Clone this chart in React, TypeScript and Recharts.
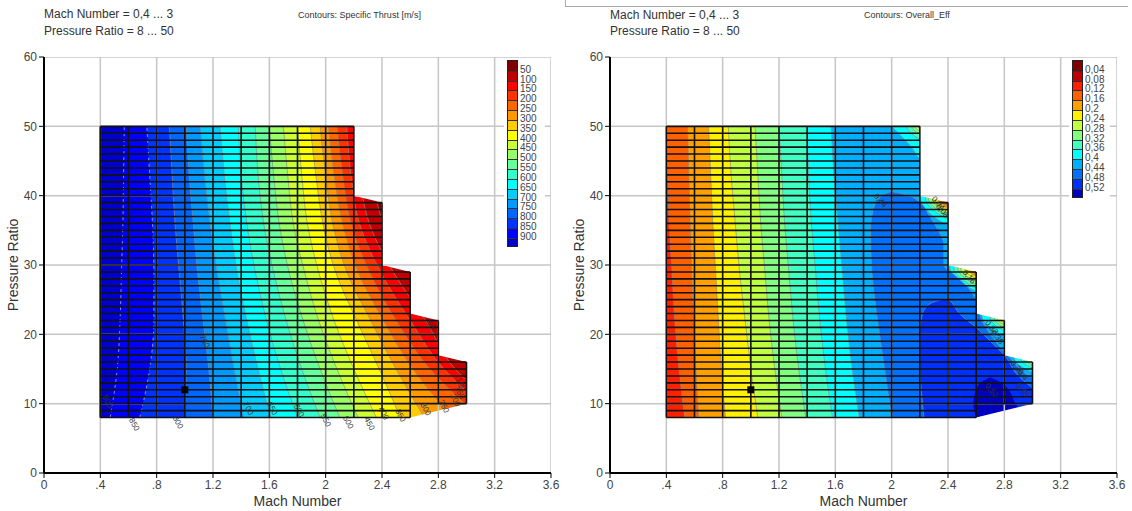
import React from 'react';
import { ComposedChart, Area, Line, XAxis, YAxis } from 'recharts';

// ---------- shared axes / domain ----------
const MACH_TICKS = [0, 0.4, 0.8, 1.2, 1.6, 2, 2.4, 2.8, 3.2, 3.6];
const PR_TICKS = [0, 10, 20, 30, 40, 50, 60];
const CELL_EDGES = [0.4, 0.6, 0.8, 1.0, 1.2, 1.4, 1.6, 1.8, 2.0, 2.2, 2.4, 2.6, 2.8, 3.0];
const CELL_TOP = [50, 50, 50, 50, 50, 50, 50, 50, 50, 39, 29, 22, 16];
const CELL_BOTTOM = [8, 8, 8, 8, 8, 8, 8, 8, 8, 8, 8, 10, 10];
const DOMAIN_PR = [8, 10, 16, 17, 22, 23, 29, 30, 39, 40, 50];
const DOMAIN_RIGHT = [2.6, 3.0, 3.0, 2.8, 2.8, 2.6, 2.6, 2.4, 2.4, 2.2, 2.2];
const MARKER_MACH = 1.0;
const MARKER_PR = 12;

// ---------- Specific thrust ----------
const THRUST_LEVELS = [50, 100, 150, 200, 250, 300, 350, 400, 450, 500, 550, 600, 650, 700, 750, 800, 850, 900];
const THRUST_COLORS = ['#800000', '#C00000', '#FF0000', '#FF3300', '#FF6600', '#FF9900', '#FFCC00', '#FFFF00', '#CCFF33', '#99FF66', '#66FF99', '#33FFCC', '#00FFFF', '#00CCFF', '#0099FF', '#0066FF', '#0033FF', '#0000FF', '#0000CC'];
const THRUST_PR = [8, 15, 22, 29, 36, 43, 50];
const THRUST_MACH = [
  [3.5, 3.06, 2.85, 2.6, 2.41, 2.33, 2.29],
  [3.34, 2.92, 2.71, 2.48, 2.31, 2.24, 2.21],
  [3.22, 2.84, 2.6, 2.39, 2.24, 2.18, 2.15],
  [3.1, 2.74, 2.5, 2.31, 2.18, 2.12, 2.08],
  [2.9, 2.62, 2.41, 2.23, 2.12, 2.06, 2.02],
  [2.7, 2.5, 2.32, 2.15, 2.05, 2.0, 1.96],
  [2.53, 2.38, 2.22, 2.07, 1.98, 1.93, 1.89],
  [2.36, 2.2, 2.06, 1.95, 1.87, 1.83, 1.8],
  [2.23, 2.08, 1.95, 1.85, 1.77, 1.73, 1.7],
  [2.1, 1.96, 1.84, 1.74, 1.67, 1.63, 1.6],
  [1.96, 1.83, 1.72, 1.63, 1.56, 1.52, 1.5],
  [1.8, 1.68, 1.58, 1.5, 1.44, 1.4, 1.38],
  [1.61, 1.52, 1.44, 1.37, 1.32, 1.28, 1.25],
  [1.42, 1.35, 1.29, 1.23, 1.18, 1.14, 1.11],
  [1.2, 1.17, 1.13, 1.09, 1.06, 1.03, 1.01],
  [1.0, 1.01, 0.99, 0.96, 0.93, 0.91, 0.89],
  [0.68, 0.75, 0.78, 0.78, 0.77, 0.75, 0.73],
  [0.47, 0.52, 0.54, 0.55, 0.56, 0.565, 0.57],
];
const THRUST_LABEL_TEXT = ['900', '850', '800', '750', '700', '650', '600', '550', '500', '450', '400', '350', '300', '250', '200', '150', '100', '50'];
const THRUST_LABEL_MACH = [0.45, 0.64, 0.95, 1.14, 1.45, 1.62, 1.81, 2.0, 2.16, 2.31, 2.41, 2.53, 2.71, 2.84, 2.92, 2.95, 2.96, 2.74];
const THRUST_LABEL_PR = [10.3, 7.0, 7.3, 19.0, 9.3, 9.3, 9.0, 7.6, 7.3, 7.1, 8.6, 8.3, 9.2, 9.6, 10.5, 11.6, 12.8, 21.3];

// ---------- Overall efficiency ----------
const EFF_LEVELS = [0.04, 0.08, 0.12, 0.16, 0.2, 0.24, 0.28, 0.32, 0.36, 0.4, 0.44, 0.48, 0.52];
const EFF_LABELS = ['0,04', '0,08', '0,12', '0,16', '0,2', '0,24', '0,28', '0,32', '0,36', '0,4', '0,44', '0,48', '0,52'];
const EFF_COLORS = ['#800000', '#C00000', '#FF2000', '#FF6000', '#FFA000', '#FFF000', '#C0FF40', '#80FF80', '#40FFC0', '#00FFFF', '#00B0FF', '#0070FF', '#0030FF', '#0000C0'];
const EFF_LO_PR = [8, 15, 22, 29, 36, 43, 50];
const EFF_LO = [
  [0.4, 0.4, 0.4, 0.4, 0.4, 0.4, 0.4],
  [0.4, 0.4, 0.4, 0.4, 0.4, 0.4, 0.4],
  [0.53, 0.49, 0.46, 0.44, 0.42, 0.41, 0.4],
  [0.63, 0.61, 0.595, 0.58, 0.57, 0.56, 0.55],
  [0.82, 0.79, 0.77, 0.75, 0.73, 0.715, 0.7],
  [1.05, 1.0, 0.96, 0.92, 0.89, 0.86, 0.84],
  [1.22, 1.17, 1.13, 1.1, 1.07, 1.05, 1.03],
  [1.39, 1.34, 1.3, 1.27, 1.24, 1.22, 1.2],
  [1.58, 1.53, 1.49, 1.46, 1.43, 1.41, 1.4],
  [1.77, 1.72, 1.68, 1.65, 1.62, 1.59, 1.57],
];
const EFF_SPLIT = 2.0;
const EFF_HI = [
  [[8, 3.3], [50, 3.3]],
  [[8, 3.3], [38.6, 3.3], [38.8, 2.42], [39.05, 2.39], [40.2, 3.3], [50, 3.3]],
  [[8, 3.3], [38.3, 3.3], [38.5, 2.42], [39.15, 2.37], [40.2, 3.3], [50, 3.3]],
  [[8, 3.3], [28.3, 3.3], [28.5, 2.62], [29.15, 2.57], [30.2, 3.3], [38.0, 3.3], [38.2, 2.42], [39.25, 2.35], [40.2, 3.3], [50, 3.3]],
  [[8, 3.3], [21.6, 3.3], [21.8, 2.82], [22.05, 2.79], [23.2, 3.3], [28.0, 3.3], [28.2, 2.62], [29.25, 2.55], [30.2, 3.3], [37.8, 3.3], [38.0, 2.42], [39.35, 2.33], [40.2, 3.3], [50, 3.3]],
  [[8, 3.3], [21.3, 3.3], [21.5, 2.82], [22.15, 2.77], [23.2, 3.3], [27.7, 3.3], [27.9, 2.62], [29.4, 2.52], [30.2, 3.3], [37.4, 3.3], [37.6, 2.42], [39.45, 2.31], [40.2, 3.3], [49.4, 3.3], [49.6, 2.22], [50, 2.18]],
  [[8, 3.3], [15.6, 3.3], [15.8, 3.02], [16.05, 2.99], [17.2, 3.3], [21.0, 3.3], [21.2, 2.82], [22.25, 2.75], [23.2, 3.3], [27.3, 3.3], [27.5, 2.62], [29.55, 2.49], [30.2, 3.3], [37.1, 3.3], [37.3, 2.42], [39.55, 2.29], [40.2, 3.3], [49.0, 3.3], [49.2, 2.22], [50, 2.16]],
  [[8, 3.3], [15.2, 3.3], [15.4, 3.02], [16.2, 2.96], [17.2, 3.3], [20.6, 3.3], [20.8, 2.82], [22.35, 2.73], [23.2, 3.3], [26.8, 3.3], [27.0, 2.62], [29.65, 2.47], [30.2, 3.3], [36.8, 3.3], [37.0, 2.42], [39.7, 2.26], [40.2, 3.3], [48.5, 3.3], [48.7, 2.22], [50, 2.14]],
  [[8, 3.3], [14.8, 3.3], [15.0, 3.02], [16.4, 2.92], [17.2, 3.3], [20.1, 3.3], [20.3, 2.82], [22.5, 2.7], [23.2, 3.3], [26.3, 3.3], [26.5, 2.62], [29.8, 2.44], [30.2, 3.3], [36.2, 3.3], [36.4, 2.42], [39.8, 2.24], [40.2, 3.3], [47.8, 3.3], [48.0, 2.22], [50, 2.1]],
  [[8, 3.3], [14.2, 3.3], [14.4, 3.02], [16.65, 2.87], [17.2, 3.3], [19.4, 3.3], [19.6, 2.82], [22.8, 2.64], [23.2, 3.3], [25.8, 3.3], [26.0, 2.62], [29.95, 2.41], [30.2, 3.3], [35.3, 3.3], [35.5, 2.42], [40.0, 2.2], [41, 2.3], [44, 2.3], [45, 2.22], [47, 2.14], [50, 2.0]],
];
// closed high-efficiency islands (levels 0.44, 0.48, 0.52)
const EFF_BLOB_LO = [
  [[8, 2.0], [15, 1.95], [22, 1.9], [29, 1.86], [35, 1.85], [38, 1.87], [40, 1.93], [40.6, 2.0]],
  [[8, 2.23], [12, 2.21], [16, 2.2], [20, 2.2], [23, 2.22], [24.5, 2.28], [25.2, 2.4]],
  [[8, 2.6], [10, 2.58], [12, 2.6], [13, 2.63], [13.8, 2.7]],
];
const EFF_BLOB_HI = [
  [[8, 3.3], [12, 3.2], [13.5, 3.02], [17, 2.82], [20, 2.7], [22, 2.64], [24.5, 2.61], [27, 2.53], [28.5, 2.45], [30, 2.37], [33, 2.37], [35, 2.33], [37, 2.27], [39, 2.2], [40, 2.12], [40.6, 2.0]],
  [[8, 3.3], [10, 3.2], [12, 3.02], [14, 2.9], [17, 2.8], [19, 2.7], [21, 2.6], [23, 2.48], [24.5, 2.43], [25.2, 2.4]],
  [[8, 2.95], [10, 2.88], [12, 2.83], [13, 2.78], [13.8, 2.7]],
];
const EFF_BLOB_SPLIT = [2.0, 2.4, 2.7];
const EFF_LABEL_TEXT = ['0,44', '0,04', '0,08', '0,16', '0,32', '0,36', '0,36', '0,4', '0,52', '0,48'];
const EFF_LABEL_MACH = [1.92, 2.33, 2.36, 2.55, 2.71, 2.75, 2.89, 2.93, 2.71, 2.93];
const EFF_LABEL_PR = [39.3, 38.9, 37.8, 28.3, 21.0, 19.6, 15.2, 14.1, 11.9, 12.0];

// ---------- helpers ----------
const FONT = '"Liberation Sans", Arial, Helvetica, sans-serif';
const X_MAX = MACH_TICKS[MACH_TICKS.length - 1];
const CONTOUR = '#8c8c8c';

const fmtMach = (v: number) => {
  if (v === 0) return '0';
  const s = String(Math.round(v * 10) / 10);
  return s.startsWith('0.') ? s.slice(1) : s;
};

type Seg = { a: { pr: number; m: number }; b: { pr: number; m: number } };

function gridSegs(): Seg[] {
  const out: Seg[] = [];
  const y0 = PR_TICKS[0];
  const y1 = PR_TICKS[PR_TICKS.length - 1];
  MACH_TICKS.forEach((x) => out.push({ a: { pr: y0, m: x }, b: { pr: y1, m: x } }));
  PR_TICKS.forEach((y) => out.push({ a: { pr: y, m: MACH_TICKS[0] }, b: { pr: y, m: X_MAX } }));
  return out;
}

function cellSegs(): Seg[] {
  const out: Seg[] = [];
  const pMin = Math.min(...CELL_BOTTOM);
  const pMax = Math.max(...CELL_TOP);
  for (let p = pMin; p <= pMax; p++) {
    let lo = Infinity;
    let hi = -Infinity;
    CELL_TOP.forEach((t, j) => {
      if (p >= CELL_BOTTOM[j] && p <= t) {
        lo = Math.min(lo, CELL_EDGES[j]);
        hi = Math.max(hi, CELL_EDGES[j + 1]);
      }
    });
    if (hi > lo) out.push({ a: { pr: p, m: lo }, b: { pr: p, m: hi } });
  }
  CELL_EDGES.forEach((x, i) => {
    const adj = [i - 1, i].filter((j) => j >= 0 && j < CELL_TOP.length);
    const b = Math.min(...adj.map((j) => CELL_BOTTOM[j]));
    const t = Math.max(...adj.map((j) => CELL_TOP[j]));
    out.push({ a: { pr: b, m: x }, b: { pr: t, m: x } });
  });
  return out;
}

const GRID = gridSegs();
const CELLS = cellSegs();
const LAST = DOMAIN_PR.length - 1;
const MASK = [
  { pr: DOMAIN_PR[0] - 0.6, r: [DOMAIN_RIGHT[0], X_MAX + 0.05] },
  ...DOMAIN_PR.map((p, j) => ({ pr: p, r: [DOMAIN_RIGHT[j], X_MAX + 0.05] })),
  { pr: DOMAIN_PR[LAST] + 0.6, r: [DOMAIN_RIGHT[LAST], X_MAX + 0.05] },
];
const BG = DOMAIN_PR.map((p, j) => ({ pr: p, r: [CELL_EDGES[0], DOMAIN_RIGHT[j]] }));
const MARKER = [{ pr: MARKER_PR, m: MARKER_MACH }];
const THRUST_TAGS = THRUST_LABEL_TEXT.map((t, i) => ({ pr: THRUST_LABEL_PR[i], m: THRUST_LABEL_MACH[i], t }));
const EFF_TAGS = EFF_LABEL_TEXT.map((t, i) => ({ pr: EFF_LABEL_PR[i], m: EFF_LABEL_MACH[i], t }));

function band(key: string, data: any[], fill: string, type: any = 'monotone', stroke = 'none', dash?: string) {
  return (
    <Area
      key={key}
      data={data}
      dataKey="r"
      type={type}
      stroke={stroke}
      strokeWidth={0.8}
      strokeOpacity={0.85}
      strokeDasharray={dash}
      fill={fill}
      fillOpacity={1}
      dot={false}
      activeDot={false}
      isAnimationActive={false}
      legendType="none"
    />
  );
}

function thrustBands() {
  const out = [band('bg', BG, THRUST_COLORS[0], 'linear')];
  THRUST_LEVELS.forEach((lv, i) => {
    const data = THRUST_PR.map((p, j) => ({ pr: p, r: [CELL_EDGES[0], THRUST_MACH[i][j]] }));
    const pale = i >= THRUST_LEVELS.length - 2;
    out.push(band('t' + lv, data, THRUST_COLORS[i + 1], 'monotone', pale ? '#c8c8d8' : CONTOUR, pale ? '3 3' : undefined));
  });
  return out;
}

function effBands() {
  const out = [band('bg', BG, EFF_COLORS[0], 'linear')];
  EFF_LO.forEach((lo, i) => {
    const left = EFF_LO_PR.map((p, j) => ({ pr: p, r: [lo[j], EFF_SPLIT] }));
    const right = EFF_HI[i].map(([p, m]) => ({ pr: p, r: [EFF_SPLIT, m] }));
    const s = i >= 2 ? CONTOUR : 'none';
    out.push(band('el' + i, left, EFF_COLORS[i + 1], 'monotone', s));
    out.push(band('er' + i, right, EFF_COLORS[i + 1], 'monotone', CONTOUR));
  });
  EFF_BLOB_LO.forEach((lo, k) => {
    const s = EFF_BLOB_SPLIT[k];
    const idx = EFF_LO.length + k + 1;
    const st = k < 2 ? CONTOUR : 'none';
    out.push(band('bl' + k, lo.map(([p, m]) => ({ pr: p, r: [m, s] })), EFF_COLORS[idx], 'monotone', st));
    out.push(band('br' + k, EFF_BLOB_HI[k].map(([p, m]) => ({ pr: p, r: [s, m] })), EFF_COLORS[idx], 'monotone', st));
  });
  return out;
}

function segLines(prefix: string, segs: Seg[], stroke: string, width: number) {
  return segs.map((s, i) => (
    <Line
      key={prefix + i}
      data={[s.a, s.b]}
      dataKey="m"
      type="linear"
      stroke={stroke}
      strokeWidth={width}
      dot={false}
      activeDot={false}
      isAnimationActive={false}
      legendType="none"
    />
  ));
}

const markerDot = (p: any) => (
  <rect key="marker" x={p.cx - 3.5} y={p.cy - 3.5} width={7} height={7} fill="#000" />
);

const tagDot = (angle: number) => (p: any) => (
  <text
    key={'tag' + p.index}
    x={p.cx}
    y={p.cy}
    transform={`rotate(${angle} ${p.cx} ${p.cy})`}
    textAnchor="middle"
    dominantBaseline="central"
    fontSize={8}
    fontFamily={FONT}
    fill="#333"
  >
    {p.payload.t}
  </text>
);

function Panel({ bands, tags, angle }: { bands: any[]; tags: any[]; angle: number }) {
  return (
    <ComposedChart
      width={560}
      height={511}
      layout="vertical"
      margin={{ top: 57, right: 9, bottom: 0, left: 0 }}
    >
      <XAxis
        type="number"
        domain={[0, X_MAX]}
        ticks={MACH_TICKS}
        allowDataOverflow
        tickFormatter={fmtMach}
        height={38}
        axisLine={{ stroke: '#000', strokeWidth: 2 }}
        tickLine={{ stroke: '#000' }}
        tickSize={5}
        tickMargin={2}
        tick={{ fill: '#444', fontSize: 12, fontFamily: FONT }}
        label={{ value: 'Mach Number', position: 'insideBottom', offset: 5, style: { fill: '#333', fontSize: 14, fontFamily: FONT } }}
      />
      <YAxis
        type="number"
        dataKey="pr"
        domain={[0, 60]}
        ticks={PR_TICKS}
        allowDataOverflow
        reversed
        width={44}
        axisLine={{ stroke: '#000', strokeWidth: 2 }}
        tickLine={{ stroke: '#000' }}
        tickSize={5}
        tickMargin={2}
        tick={{ fill: '#444', fontSize: 12, fontFamily: FONT }}
        label={{ value: 'Pressure Ratio', angle: -90, position: 'insideLeft', offset: 13, style: { textAnchor: 'middle', fill: '#333', fontSize: 14, fontFamily: FONT } }}
      />
      {bands}
      {band('mask', MASK, '#ffffff', 'linear')}
      {segLines('g', GRID, '#c6c6c6', 1.5)}
      {segLines('c', CELLS, '#111', 1.6)}
      <Line data={MARKER} dataKey="m" type="linear" stroke="none" dot={markerDot} activeDot={false} isAnimationActive={false} legendType="none" />
      <Line data={tags} dataKey="m" type="linear" stroke="none" dot={tagDot(angle)} activeDot={false} isAnimationActive={false} legendType="none" />
    </ComposedChart>
  );
}

function ColorBar({ left, colors, labels }: { left: number; colors: string[]; labels: string[] }) {
  const top = 60;
  const h = 9.83;
  return (
    <>
      <div style={{ position: 'absolute', left: left - 3, top: 59, width: 41, height: colors.length * h + 5, background: '#fff' }} />
      <div style={{ position: 'absolute', left, top, width: 11, height: colors.length * h, border: '1px solid #222', boxSizing: 'border-box', overflow: 'hidden' }}>
        {colors.map((c, i) => (
          <div key={i} style={{ height: h, background: c, borderTop: i ? '1px solid #333' : 'none', boxSizing: 'border-box' }} />
        ))}
      </div>
      {labels.map((t, k) => (
        <div key={t} style={{ position: 'absolute', left: left + 13, top: top + h * (k + 1) - 6, fontSize: 10, lineHeight: '12px', color: '#444', fontFamily: FONT }}>
          {t}
        </div>
      ))}
    </>
  );
}

const txt = (left: number, top: number, text: string, size = 12) => (
  <div style={{ position: 'absolute', left, top, fontSize: size, lineHeight: '14px', color: '#333', fontFamily: FONT, whiteSpace: 'nowrap' }}>{text}</div>
);

export default function App() {
  return (
    <div style={{ position: 'absolute', left: 0, top: 0, width: 1132, height: 511, background: '#fff', fontFamily: FONT, overflow: 'hidden' }}>
      <div style={{ position: 'absolute', left: 0, top: 0 }}>
        <Panel bands={thrustBands()} tags={THRUST_TAGS} angle={62} />
      </div>
      <div style={{ position: 'absolute', left: 566, top: 0 }}>
        <Panel bands={effBands()} tags={EFF_TAGS} angle={50} />
      </div>
      <div style={{ position: 'absolute', left: 565, top: 0, width: 562, height: 6, borderLeft: '1px solid #aaa', borderBottom: '1px solid #aaa' }} />
      {txt(44, 7, 'Mach Number = 0,4 ... 3')}
      {txt(44, 24, 'Pressure Ratio = 8 ... 50')}
      {txt(298, 8, 'Contours: Specific Thrust [m/s]', 9)}
      {txt(610, 8, 'Mach Number = 0,4 ... 3')}
      {txt(610, 24, 'Pressure Ratio = 8 ... 50')}
      {txt(864, 8, 'Contours: Overall_Eff', 9)}
      <ColorBar left={507} colors={THRUST_COLORS} labels={THRUST_LEVELS.map(String)} />
      <ColorBar left={1072} colors={EFF_COLORS} labels={EFF_LABELS} />
    </div>
  );
}
